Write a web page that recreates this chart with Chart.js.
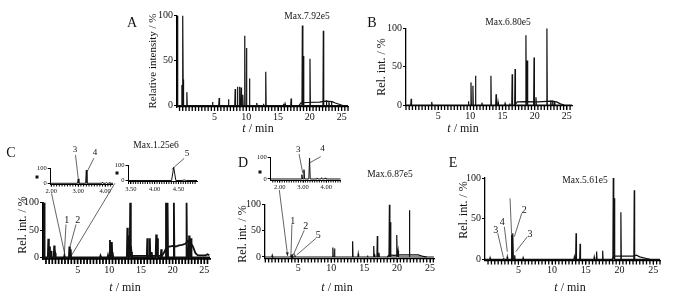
<!DOCTYPE html>
<html><head><meta charset="utf-8">
<script src="https://cdn.jsdelivr.net/npm/chart.js@4.4.1/dist/chart.umd.min.js"></script>
<style>
html,body{margin:0;padding:0;background:#fff}
#wrap{position:relative;width:691px;height:296px;overflow:hidden;font-family:"Liberation Serif","DejaVu Serif",serif;color:#111}
#wrap canvas{position:absolute;left:0;top:0}
.lb{position:absolute;white-space:nowrap;transform:translate(-50%,-50%);line-height:1}
.rot{transform:translate(-50%,-50%) rotate(-90deg)}
.sq{position:absolute;width:3px;height:3px;background:#111;transform:translate(-50%,-50%)}
</style></head><body><div id="wrap">
<canvas id="cA" width="691" height="296"></canvas>
<canvas id="cB" width="691" height="296"></canvas>
<canvas id="cC" width="691" height="296"></canvas>
<canvas id="cC1" width="691" height="296"></canvas>
<canvas id="cC2" width="691" height="296"></canvas>
<canvas id="cD" width="691" height="296"></canvas>
<canvas id="cDi" width="691" height="296"></canvas>
<canvas id="cE" width="691" height="296"></canvas>
<canvas id="over" width="691" height="296"></canvas>

<div class="lb" style="left:132px;top:23px;font-size:14px">A</div>
<div class="lb rot" style="left:152px;top:61px;font-size:11px">Relative intensity / %</div>
<div class="lb" style="left:307px;top:17px;font-size:9.5px">Max.7.92e5</div>
<div class="lb" style="left:258px;top:128px;font-size:12px"><i>t</i> / min</div>

<div class="lb" style="left:372px;top:23px;font-size:14px">B</div>
<div class="lb rot" style="left:381px;top:67px;font-size:12px">Rel. int. / %</div>
<div class="lb" style="left:508px;top:23px;font-size:9.5px">Max.6.80e5</div>
<div class="lb" style="left:463px;top:128px;font-size:12px"><i>t</i> / min</div>

<div class="lb" style="left:11px;top:153px;font-size:14px">C</div>
<div class="lb rot" style="left:22px;top:225px;font-size:12px">Rel. int. / %</div>
<div class="lb" style="left:156px;top:146px;font-size:9.5px">Max.1.25e6</div>
<div class="lb" style="left:125px;top:287px;font-size:12px"><i>t</i> / min</div>
<div class="sq" style="left:37px;top:177px"></div>
<div class="sq" style="left:117px;top:173px"></div>

<div class="lb" style="left:243px;top:163px;font-size:14px">D</div>
<div class="lb rot" style="left:242px;top:234px;font-size:12px">Rel. int. / %</div>
<div class="lb" style="left:390px;top:175px;font-size:9.5px">Max.6.87e5</div>
<div class="lb" style="left:337px;top:287px;font-size:12px"><i>t</i> / min</div>
<div class="sq" style="left:260px;top:172px"></div>

<div class="lb" style="left:453px;top:163px;font-size:14px">E</div>
<div class="lb rot" style="left:463px;top:210px;font-size:12px">Rel. int. / %</div>
<div class="lb" style="left:585px;top:181px;font-size:9.5px">Max.5.61e5</div>
<div class="lb" style="left:570px;top:287px;font-size:12px"><i>t</i> / min</div>
</div>
<script>
// ---- data: peak retention time (min) / relative height (%) ----
const aTimes=[-0.85,-0.13,0.03,0.13,0.65,4.69,5.73,7.2,8.25,8.61,8.93,9.19,9.45,9.76,10.03,10.5,11.65,12.7,13.06,15.84,16.1,17.05,18.82,18.98,20.02,22.12,22.6,23.0,23.4];
const aHeights=[100,23,100,29,15,4,8.5,7,18.5,21,21,20,12,77.5,64,30,3,2,37.6,2,2,8,89,55,52,83,6,5,4];
const aBaseT=[18.3,18.6,19.5,21.5,22.5,23.5,24,24.6,25.2];
const aBaseH=[0,3,3.5,4,5,4.5,3,1.5,0];

const bTimes=[0.8,4.0,9.7,10.1,10.4,10.8,11.8,13.2,14.0,14.3,15.4,16.1,16.5,16.95,18.64,18.85,19.9,20.2,21.9,22.5,22.8,23.1];
const bHeights=[8,4,5,29.5,25,38,3,38,14,4,2,2,40,47,91,58,62,10,100,6,6,5];
const bBaseT=[16.9,17.3,18.5,20.5,22.5,23.4,24,24.6];
const bBaseH=[0,4,4.5,4,5,4,1.5,0];

const cTimes=[-0.3,0.37,0.55,0.8,1.3,1.45,2.9,3.7,3.9,8.6,9.8,10.1,10.4,10.55,12.85,13.0,13.3,13.5,16.0,16.4,16.7,17.4,17.6,18.2,18.95,19.2,20.2,22.2,22.6,22.9];
const cHeights=[100,34,20,12,21.6,8,3,20,15,3,4,32,28,10,54,40,100,10,35,35,10,42,35,15,100,100,100,100,40,35];
const cBaseT=[13.4,13.7,18.3,18.6,19.0,19.5,20.0,20.5,21.0,21.5,22.0,22.4,22.8,23.2,23.6,24.0,25.2,25.5,25.8];
const cBaseH=[0,3,3,8,18,20,21,20,22,23,25,30,27,20,8,4,4,6,4];
const c1Times=[3.0,3.3,3.9,4.05,4.15];
const c1Heights=[30,88,8,5,4];
const c2Times=[4.4,4.62];
const c2Heights=[85,3];

const dTimes=[1.05,3.9,4.1,4.5,10.25,10.5,13.25,14.1,15.5,16.45,16.6,17.0,17.25,18.83,18.98,19.95,20.15,21.87];
const dHeights=[3,3,3,2,18,16,30,6,3,21,6,40,8,100,66,42,12,89];
const dBaseT=[18.5,18.8,19.5,20.5,23.2,24.0,24.5];
const dBaseH=[0,4,3,4,4,1,0];
const dInTimes=[2.95,3.04,3.28,3.6,3.8,3.95];
const dInHeights=[20,43,97,5,6,5];

const eTimes=[0.8,2.8,3.35,4.0,4.2,4.45,5.7,13.3,13.55,14.15,16.25,16.6,17.5,19.07,19.22,20.2,22.18];
const eHeights=[2,2,3,30,32,5,2,3,32,19,3,9.5,10.5,100,75,58,85];
const eBaseT=[18.9,19.2,22,22.5,23,24,24.5];
const eBaseH=[0,4,4,5,3,1,0];

// tick labels
const mainXLabels=[5,10,15,20,25];
const mainYTicks=[0,50,100];
const insetYTicks=[0,100];
const c1XLabels=[2,3,4];
const c2XLabels=[3.5,4,4.5];
const dInXLabels=[2,3,4];

Chart.defaults.font.family='"Liberation Serif","DejaVu Serif",serif';
Chart.defaults.color='#111';

const notes={id:'notes',afterDraw(c,a,o){
  if(!o.items) return;
  const xs=c.scales.x,ys=c.scales.y,ctx=c.ctx;
  ctx.save();
  ctx.strokeStyle='#222';ctx.lineWidth=0.7;ctx.fillStyle='#111';
  ctx.font=o.size+'px "Liberation Serif",serif';ctx.textAlign='center';ctx.textBaseline='middle';
  o.items.forEach(n=>{
    ctx.beginPath();
    ctx.moveTo(xs.getPixelForValue(n.x1),ys.getPixelForValue(n.y1));
    ctx.lineTo(xs.getPixelForValue(n.x2),ys.getPixelForValue(n.y2));
    ctx.stroke();
    if(n.text) ctx.fillText(n.text,xs.getPixelForValue(n.tx),ys.getPixelForValue(n.ty));
  });
  ctx.restore();
}};
Chart.register(notes);

function peakPoints(ts,hs,hw,x0,x1){
  const pts=[{x:x0,y:0}];
  ts.forEach((t,i)=>{pts.push({x:t-hw,y:0},{x:t,y:hs[i]},{x:t+hw,y:0});});
  pts.push({x:x1,y:0});
  return pts;
}
function basePoints(ts,hs){return ts.map((t,i)=>({x:t,y:hs[i]}));}
function tickRange(min,max,step){
  const out=[];
  for(let k=Math.ceil(min/step-1e-9);k*step<=max+1e-9;k++) out.push(Math.round(k*step*1000)/1000);
  return out;
}

const W=691,H=296;
const combs=[];
function make(id,g){
  const YW=g.yw,XH=g.xh;
  const ds=[{data:peakPoints(g.times,g.heights,g.hw,g.xmin,g.xmax),borderColor:'#111',borderWidth:g.lw,pointRadius:0,tension:0}];
  if(g.baseT) ds.push({data:basePoints(g.baseT,g.baseH),borderColor:'#111',borderWidth:g.lw,pointRadius:0,tension:0});
  const labelVals=g.labels;
  const ch=new Chart(document.getElementById(id),{
    type:'line',
    data:{datasets:ds},
    options:{
      responsive:false,animation:false,devicePixelRatio:1,
      layout:{padding:{left:g.l-YW,right:W-g.r,top:g.t,bottom:H-g.b-XH}},
      plugins:{legend:{display:false},tooltip:{enabled:false},notes:{items:g.notes,size:g.noteSize}},
      scales:{
        x:{type:'linear',min:g.xmin,max:g.xmax,
          afterFit:s=>{s.height=XH;},
          afterBuildTicks:s=>{s.ticks=labelVals.map(v=>({value:v}));},
          ticks:{autoSkip:false,maxRotation:0,padding:g.tp,font:{size:g.fs},callback:v=>g.fmt(v)},
          grid:{drawOnChartArea:false,drawTicks:true,tickLength:g.tl,color:'#000'},
          border:{color:'#000',width:g.bw}},
        y:{type:'linear',min:g.ymin,max:100,
          afterFit:s=>{s.width=YW;},
          afterBuildTicks:s=>{s.ticks=g.yticks.map(v=>({value:v}));},
          ticks:{padding:1,font:{size:g.fs}},
          grid:{drawOnChartArea:false,drawTicks:true,tickLength:3,color:'#000'},
          border:{color:'#000',width:g.bw}}
      }
    }
  });
  combs.push({chart:ch,vals:tickRange(g.xmin,g.xmax,g.step),len:g.tl,w:g.cw});
  return ch;
}
const intFmt=v=>String(v), decFmt=v=>v.toFixed(2);
const mainG={yw:30,xh:16,tp:0,fs:10,tl:4,cw:1.3,bw:1.3,step:0.5,labels:mainXLabels,fmt:intFmt,yticks:mainYTicks,noteSize:10};
const insetG={yw:14,xh:10,tp:1,fs:6.5,tl:2.5,cw:1,bw:1,fmt:decFmt,yticks:insetYTicks,noteSize:9,lw:1};

const chA=make('cA',Object.assign({},mainG,{l:177,r:348,t:15.5,b:107,xmin:-0.9,xmax:26,ymin:-1.5,lw:1.2,hw:0.06,
  times:aTimes,heights:aHeights,baseT:aBaseT,baseH:aBaseH}));
const chB=make('cB',Object.assign({},mainG,{l:406,r:572,t:28.3,b:106,xmin:0,xmax:25.8,ymin:-1.3,lw:1.2,hw:0.06,
  times:bTimes,heights:bHeights,baseT:bBaseT,baseH:bBaseH}));
const chC=make('cC',Object.assign({},mainG,{l:43,r:210,t:202.5,b:259,xmin:-0.47,xmax:25.9,ymin:-2.7,lw:1.8,hw:0.08,bw:1.8,tl:5,cw:1.7,
  times:cTimes,heights:cHeights,baseT:cBaseT,baseH:cBaseH,
  notes:[{text:'1',tx:3.27,ty:68,x1:3.16,y1:60,x2:2.89,y2:4.5},
         {text:'2',tx:5.0,ty:68,x1:4.74,y1:60,x2:3.79,y2:19.6}]}));
const chC1=make('cC1',Object.assign({},insetG,{l:50.7,r:113,t:168.3,b:184,xmin:1.98,xmax:4.29,ymin:-4.7,hw:0.025,step:0.1,labels:c1XLabels,
  times:c1Times,heights:c1Heights,
  notes:[{text:'3',tx:2.88,ty:222,x1:2.9,y1:189,x2:3.0,y2:33},
         {text:'4',tx:3.62,ty:202,x1:3.58,y1:167,x2:3.33,y2:77}]}));
const chC2=make('cC2',Object.assign({},insetG,{l:128.5,r:197,t:165,b:181.5,xmin:3.45,xmax:4.89,ymin:-6.5,hw:0.045,step:0.05,labels:c2XLabels,
  times:c2Times,heights:c2Heights,
  notes:[{text:'5',tx:4.68,ty:171,x1:4.62,y1:143,x2:4.36,y2:72}]}));
const chD=make('cD',Object.assign({},mainG,{l:265,r:434,t:204.5,b:258.5,xmin:-0.05,xmax:25.6,ymin:-2.9,lw:1.2,hw:0.06,
  times:dTimes,heights:dHeights,baseT:dBaseT,baseH:dBaseH,
  notes:[{text:'1',tx:4.15,ty:68.6,x1:4.04,y1:62,x2:3.89,y2:3.8},
         {text:'2',tx:6.12,ty:57.7,x1:5.91,y1:51,x2:4.24,y2:3.8},
         {text:'5',tx:8.04,ty:42,x1:7.69,y1:35.6,x2:4.76,y2:3.8}]}));
const chDi=make('cDi',Object.assign({},insetG,{l:270.7,r:340.7,t:157.5,b:180,xmin:1.61,xmax:4.62,ymin:-4.7,hw:0.03,step:0.1,labels:dInXLabels,
  times:dInTimes,heights:dInHeights,
  notes:[{text:'3',tx:2.8,ty:135,x1:2.83,y1:116,x2:2.99,y2:26.5},
         {text:'4',tx:3.84,ty:140,x1:3.76,y1:104,x2:3.3,y2:76}]}));
const chE=make('cE',Object.assign({},mainG,{l:485,r:660,t:178,b:260.5,xmin:0.05,xmax:26,ymin:-1.5,lw:1.2,hw:0.06,
  times:eTimes,heights:eHeights,baseT:eBaseT,baseH:eBaseH,
  notes:[{text:'3',tx:1.64,ty:36,x1:1.94,y1:32,x2:2.77,y2:2.5},
         {text:'4',tx:2.62,ty:46,x1:2.92,y1:40,x2:3.36,y2:9.3},
         {text:'',x1:3.76,y1:75,x2:4.01,y2:27.8},
         {text:'2',tx:5.88,ty:60.6,x1:5.5,y1:56.6,x2:4.4,y2:27.8},
         {text:'3',tx:6.73,ty:31,x1:6.33,y1:27.8,x2:4.6,y2:9.3}]}));

const octx=document.getElementById('over').getContext('2d');
// comb of minor tick marks under each time axis, placed through the chart's own x scale
octx.fillStyle='#000';
combs.forEach(k=>{
  const xs=k.chart.scales.x,bottom=k.chart.chartArea.bottom;
  k.vals.forEach(v=>{const px=xs.getPixelForValue(v);octx.fillRect(px-k.w/2,bottom,k.w,k.len);});
});

// zoom connectors between insets and main traces
const links=[
  {from:chC1,fx:2.01,fy:-67,to:chC,tx:3.0,ty:4.5,arrow:false},
  {from:chC1,fx:4.36,fy:0,to:chC,tx:4.06,ty:4.5,arrow:false},
  {from:chDi,fx:1.98,fy:-51,to:chD,tx:3.39,ty:1.9,arrow:true}
];
octx.strokeStyle='#222';octx.fillStyle='#222';octx.lineWidth=0.7;
links.forEach(k=>{
  const x1=k.from.scales.x.getPixelForValue(k.fx),y1=k.from.scales.y.getPixelForValue(k.fy);
  const x2=k.to.scales.x.getPixelForValue(k.tx),y2=k.to.scales.y.getPixelForValue(k.ty);
  octx.beginPath();octx.moveTo(x1,y1);octx.lineTo(x2,y2);octx.stroke();
  if(k.arrow){
    const a=Math.atan2(y2-y1,x2-x1),L=4;
    octx.beginPath();octx.moveTo(x2,y2);
    octx.lineTo(x2-L*Math.cos(a-0.4),y2-L*Math.sin(a-0.4));
    octx.lineTo(x2-L*Math.cos(a+0.4),y2-L*Math.sin(a+0.4));
    octx.closePath();octx.fill();
  }
});
</script>
</body></html>
